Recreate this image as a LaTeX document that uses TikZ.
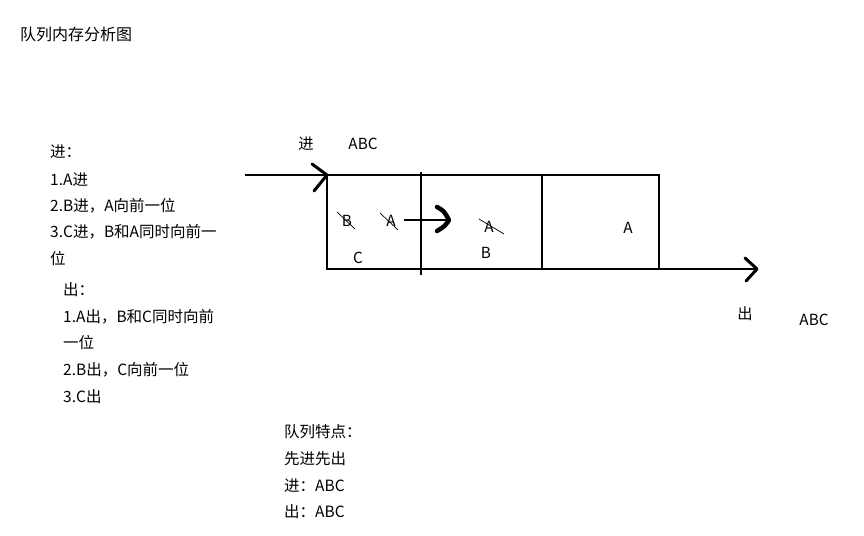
\documentclass[tikz,border=0pt]{standalone}
\usepackage{fontspec}
\setmainfont{Noto Sans CJK SC}
\begin{document}
\begin{tikzpicture}[x=1pt,y=-1pt,
  txt/.style={anchor=west,inner sep=0pt,font=\fontsize{15.5}{17}\selectfont},
  lbl/.style={anchor=center,inner sep=0pt,font=\fontsize{15.3}{17}\selectfont},
  thick line/.style={line width=2.6pt},
  chev/.style={line width=3pt,line cap=round,line join=round},
  strike/.style={line width=0.7pt}]
\useasboundingbox (0,0) rectangle (864,535);
% title
\node[txt,font=\fontsize{16}{18}\selectfont] (title) at (20,34) {队列内存分析图};
% left text
\node[txt] (in0) at (50,152) {进：};
\node[txt] (in1) at (50,180) {1.A进};
\node[txt] (in2) at (50,206) {2.B进，A向前一位};
\node[txt] (in3) at (50,232) {3.C进，B和A同时向前一};
\node[txt] (in4) at (50,259) {位};
\node[txt] (out0) at (63,290) {出：};
\node[txt] (out1) at (63,317) {1.A出，B和C同时向前};
\node[txt] (out2) at (63,343) {一位};
\node[txt] (out3) at (63,370) {2.B出，C向前一位};
\node[txt] (out4) at (63,397) {3.C出};
% bottom text
\node[txt] (f0) at (284,432) {队列特点：};
\node[txt] (f1) at (284,459) {先进先出};
\node[txt] (f2) at (284,486) {进：ABC};
\node[txt] (f3) at (284,512) {出：ABC};
% labels near arrows
\node[lbl] (jin) at (306,144) {进};
\node[lbl] (jinabc) at (363,144) {ABC};
\node[lbl] (chu) at (745,314) {出};
\node[lbl] (chuabc) at (814,320) {ABC};
% queue box
\coordinate (tl) at (327,175);
\coordinate (bl) at (327,269);
\coordinate (tr) at (659,175);
\coordinate (br) at (659,269);
\coordinate (inStart) at (245,175);
\coordinate (outEnd) at (757,269);
\draw[thick line] (tl) -- (tr) -- (br) -- (bl) -- cycle;
\draw[thick line] (421,172) -- (421,275);
\draw[thick line] (542,175) -- (542,269);
% incoming arrow
\draw[thick line] (inStart) -- (tl);
\draw[chev] (312,164) -- (tl) -- (314,191);
% outgoing arrow
\draw[thick line] (br) -- (outEnd);
\draw[chev] (745,258) -- (outEnd) -- (746,281);
% inner arrow
\coordinate (mvA) at (404,220);
\coordinate (mvB) at (449,220);
\draw[thick line] (mvA) -- (mvB);
\draw[chev,line width=4.5pt] (437,207) .. controls (444,211) .. (mvB) .. controls (445,226) .. (437,231);
% letters in cells
\node[lbl] (b1) at (347,221) {B};
\draw[strike] (337,212) -- (355,229);
\node[lbl] (a1) at (391,221) {A};
\draw[strike] (380,213) -- (398,230);
\node[lbl] (a2) at (489,227) {A};
\draw[strike] (479,219) -- (504,234);
\node[lbl] (b2) at (486,253) {B};
\node[lbl] (c1) at (358,258) {C};
\node[lbl] (a3) at (628,228) {A};
\end{tikzpicture}
\end{document}
